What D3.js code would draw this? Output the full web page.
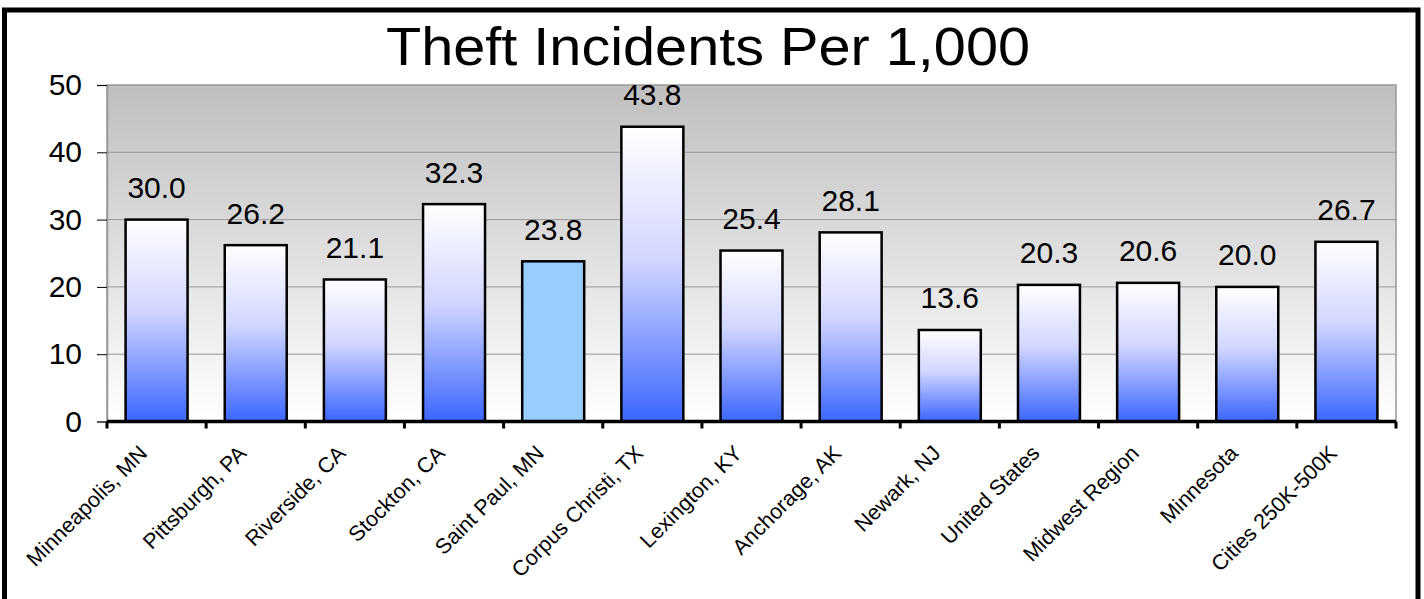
<!DOCTYPE html>
<html>
<head>
<meta charset="utf-8">
<script src="https://cdn.jsdelivr.net/npm/d3@7"></script>
<style>
  body { margin: 0; background: #fff; }
  text { font-family: "Liberation Sans", Arial, sans-serif; }
</style>
</head>
<body>
<div class="canvas"></div>
<script>
// chart data
const categories = ['Minneapolis, MN', 'Pittsburgh, PA', 'Riverside, CA', 'Stockton, CA', 'Saint Paul, MN',
  'Corpus Christi, TX', 'Lexington, KY', 'Anchorage, AK', 'Newark, NJ', 'United States',
  'Midwest Region', 'Minnesota', 'Cities 250K-500K'];
const values = [30.0, 26.2, 21.1, 32.3, 23.8, 43.8, 25.4, 28.1, 13.6, 20.3, 20.6, 20.0, 26.7];
const yTicks = [0, 10, 20, 30, 40, 50];
const highlight = 'Saint Paul, MN';

const width = 1424, height = 599;

const svg = d3.select('.canvas')
  .append('svg')
  .attr('width', width)
  .attr('height', height);

const defs = svg.append('defs');

// plot background: grey at top fading to white
const bg = defs.append('linearGradient')
  .attr('id', 'bgGrad')
  .attr('x1', 0).attr('y1', 0).attr('x2', 0).attr('y2', 1);
bg.append('stop').attr('offset', '0%').attr('stop-color', '#bfbfbf');
bg.append('stop').attr('offset', '100%').attr('stop-color', '#ffffff');

// bar fill: white on top, blue at the bottom
const barGrad = defs.append('linearGradient')
  .attr('id', 'barGrad')
  .attr('x1', 0).attr('y1', 0).attr('x2', 0).attr('y2', 1);
barGrad.append('stop').attr('offset', '0%').attr('stop-color', '#ffffff');
barGrad.append('stop').attr('offset', '45%').attr('stop-color', '#d2d6ff');
barGrad.append('stop').attr('offset', '100%').attr('stop-color', '#3b66ff');

// outer frame
svg.append('rect')
  .attr('x', 4.5).attr('y', 10)
  .attr('width', 1413.5).attr('height', 620)
  .attr('fill', 'none')
  .attr('stroke', '#000')
  .attr('stroke-width', 5);

const margin = { top: 85, left: 107, right: 28, bottom: 177 };
const graphWidth = width - margin.left - margin.right;
const graphHeight = 421.5 - margin.top;

const graph = svg.append('g')
  .attr('transform', `translate(${margin.left}, ${margin.top})`);

const x = d3.scaleBand()
  .domain(categories)
  .range([0, graphWidth])
  .paddingInner(0.375)
  .paddingOuter(0.1875);

const y = d3.scaleLinear()
  .domain([0, 50])
  .range([graphHeight, 0]);

// background
graph.append('rect')
  .attr('width', graphWidth)
  .attr('height', graphHeight)
  .attr('fill', 'url(#bgGrad)')
  .attr('stroke', '#999')
  .attr('stroke-width', 1.5);

// gridlines
graph.append('g')
  .selectAll('line')
  .data(yTicks.filter(t => t > 0 && t < 50))
  .enter()
  .append('line')
  .attr('x1', 0).attr('x2', graphWidth)
  .attr('y1', d => y(d)).attr('y2', d => y(d))
  .attr('stroke', '#999')
  .attr('stroke-width', 1);

// y axis
const yAxisGroup = graph.append('g');
yAxisGroup.call(d3.axisLeft(y).tickValues(yTicks).tickSize(10).tickPadding(15));
yAxisGroup.select('.domain').attr('stroke', '#999').attr('stroke-width', 1.5);
yAxisGroup.selectAll('.tick line').attr('stroke', '#000').attr('stroke-width', 1);
yAxisGroup.selectAll('.tick text')
  .attr('font-size', 30)
  .attr('fill', '#000')
  .style('font-family', '"Liberation Sans", Arial, sans-serif');

// bars
graph.selectAll('rect.bar')
  .data(values)
  .enter()
  .append('rect')
  .attr('class', 'bar')
  .attr('x', (d, i) => x(categories[i]))
  .attr('y', d => y(d))
  .attr('width', x.bandwidth())
  .attr('height', d => graphHeight - y(d))
  .attr('fill', (d, i) => categories[i] === highlight ? '#99ccff' : 'url(#barGrad)')
  .attr('stroke', '#000')
  .attr('stroke-width', 2.5);

// value labels
graph.selectAll('text.val')
  .data(values)
  .enter()
  .append('text')
  .attr('class', 'val')
  .attr('x', (d, i) => x(categories[i]) + x.bandwidth() / 2)
  .attr('y', d => y(d) - 21.5)
  .attr('text-anchor', 'middle')
  .attr('font-size', 30)
  .text(d => d.toFixed(1));

// x axis line with ticks at category boundaries
const xAxisGroup = graph.append('g')
  .attr('transform', `translate(0, ${graphHeight})`);
xAxisGroup.append('line')
  .attr('x1', 0).attr('x2', graphWidth)
  .attr('stroke', '#000')
  .attr('stroke-width', 3.5);
const step = x.step();
xAxisGroup.selectAll('line.tk')
  .data(d3.range(categories.length + 1))
  .enter()
  .append('line')
  .attr('class', 'tk')
  .attr('x1', d => d * step).attr('x2', d => d * step)
  .attr('y1', 0).attr('y2', 7)
  .attr('stroke', '#000')
  .attr('stroke-width', 3);

// rotated category labels
xAxisGroup.selectAll('text.cat')
  .data(categories)
  .enter()
  .append('text')
  .attr('class', 'cat')
  .attr('transform', d => `translate(${x(d) + x.bandwidth() / 2 - 8}, 33) rotate(-45)`)
  .attr('text-anchor', 'end')
  .attr('font-size', 21.5)
  .text(d => d);

// title
svg.append('text')
  .attr('x', 708)
  .attr('y', 65)
  .attr('text-anchor', 'middle')
  .attr('font-size', 54)
  .attr('textLength', 644)
  .attr('lengthAdjust', 'spacingAndGlyphs')
  .text('Theft Incidents Per 1,000');
</script>
</body>
</html>
